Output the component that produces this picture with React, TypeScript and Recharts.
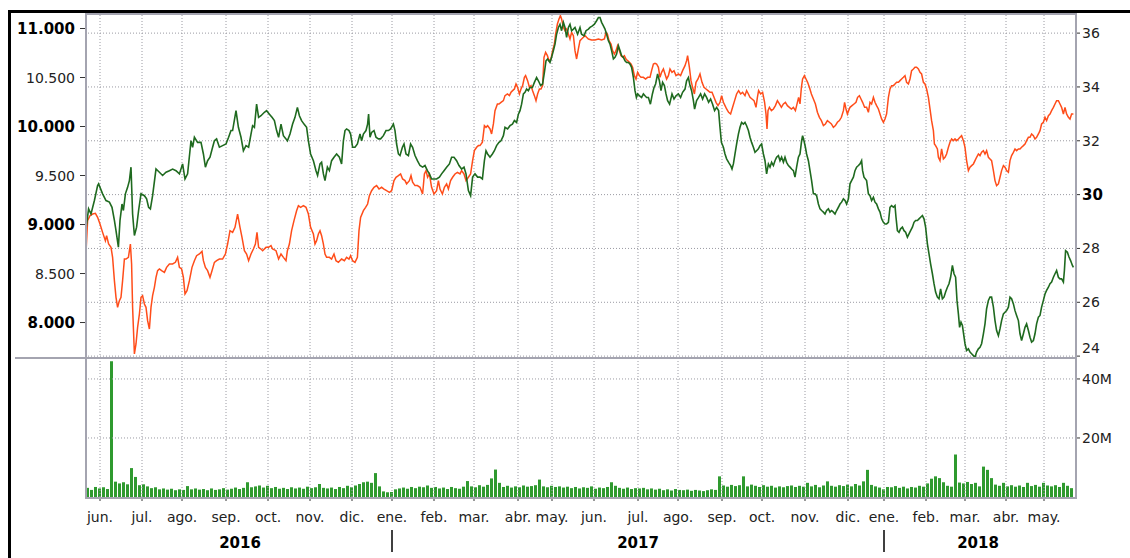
import React from 'react';
import { LineChart, Line, BarChart, Bar, XAxis, YAxis, ReferenceLine } from 'recharts';

// x values are trading-day positions, ~2px each in the original picture
const monthTicks = [7, 28, 48, 70, 91, 112, 133, 153, 174, 194, 216, 233, 254, 276, 296, 318, 338, 359.5, 381, 399, 420, 439.5, 460, 479];
const monthLabels = ['jun.', 'jul.', 'ago.', 'sep.', 'oct.', 'nov.', 'dic.', 'ene.', 'feb.', 'mar.', 'abr.', 'may.', 'jun.', 'jul.', 'ago.', 'sep.', 'oct.', 'nov.', 'dic.', 'ene.', 'feb.', 'mar.', 'abr.', 'may.'];
const yearTicks = [77, 276, 446];
const yearLabels = ['2016', '2017', '2018'];
const yearBreaks = [153, 399];

const indexTicks = [8000, 8500, 9000, 9500, 10000, 10500, 11000];
const stockTicks = [24, 26, 28, 30, 32, 34, 36];
const volumeTicks = [20, 40];

// index (orange, left axis)
const ibexPoints: [number, number][] = [
  [0, 8716], [0.8, 9039], [2, 9090], [3.3, 9107], [4.7, 9114], [5.8, 9073], [7, 9005], [8.3, 8920], [9.7, 8835], [10.3, 8886],
  [11.3, 8801], [12.5, 8767], [13.3, 8665], [14.2, 8427], [15, 8257], [15.8, 8155], [16.7, 8223], [17.5, 8257], [18.3, 8427], [19.2, 8648],
  [20, 8648], [21.2, 8665], [22.2, 8801], [22.8, 8597], [23.3, 8155], [24.2, 7679], [25, 7781], [25.8, 7951], [26.7, 8087], [27.5, 8257],
  [28.3, 8274], [29.2, 8189], [30, 8155], [30.8, 8019], [31.7, 7934], [32.5, 8155], [33.3, 8274], [34.2, 8359], [35, 8461], [35.8, 8529],
  [36.7, 8546], [37.8, 8529], [39.2, 8512], [40.3, 8563], [41.7, 8597], [43.3, 8597], [44.7, 8614], [45.8, 8665], [46.7, 8563], [47.8, 8546],
  [48.7, 8461], [49.5, 8291], [50.5, 8325], [51.7, 8427], [53, 8563], [54.2, 8631], [55.3, 8682], [56.7, 8699], [58, 8726], [58.7, 8631],
  [59.7, 8563], [60.8, 8529], [62, 8461], [63, 8529], [64.2, 8614], [65.3, 8631], [66.7, 8648], [68.3, 8648], [69.7, 8699], [70.8, 8801],
  [72, 8937], [73.3, 8920], [74.5, 8971], [75.8, 9107], [77, 8971], [78, 8869], [79.2, 8733], [80.3, 8699], [81.3, 8631], [82.5, 8699],
  [83.7, 8750], [84.7, 8801], [85.5, 8920], [86.3, 8767], [87.5, 8750], [88.3, 8733], [90, 8767], [91.3, 8767], [92.5, 8784], [93.3, 8750],
  [95, 8733], [96.3, 8648], [97.5, 8699], [98.7, 8665], [100, 8631], [100.7, 8733], [101.7, 8801], [102.8, 8937], [104, 9039], [105.3, 9141],
  [106.2, 9192], [107.3, 9175], [108.7, 9192], [110, 9175], [111.2, 9107], [112.3, 8971], [113.7, 8903], [114.5, 8801], [115.3, 8835], [116.2, 8903],
  [117, 8937], [117.8, 8886], [118.7, 8801], [119.5, 8699], [120.3, 8665], [121.7, 8665], [122.8, 8648], [124, 8699], [125, 8631], [126.2, 8614],
  [127.8, 8648], [129.2, 8631], [130.3, 8665], [131.5, 8648], [132.3, 8682], [133.3, 8631], [134.5, 8614], [135.7, 8665], [136.5, 8937], [137.3, 9073],
  [138.7, 9141], [139.8, 9175], [140.8, 9209], [141.7, 9294], [142.8, 9345], [144, 9380], [145.3, 9397], [146.5, 9362], [147.8, 9380], [149, 9362],
  [150.3, 9345], [151.7, 9328], [152.8, 9345], [154, 9448], [155, 9482], [156.2, 9499], [157.3, 9516], [158.3, 9465], [159.5, 9448], [160.3, 9414],
  [161.7, 9448], [162.5, 9499], [163.3, 9431], [164.5, 9397], [165.7, 9397], [167, 9380], [168.3, 9311], [169.2, 9516], [170, 9550], [170.8, 9482],
  [171.7, 9516], [172.8, 9380], [174, 9311], [175.3, 9345], [176.2, 9448], [177, 9362], [178.2, 9311], [179.2, 9380], [180.3, 9414], [181.2, 9362],
  [182.3, 9448], [183.3, 9482], [184.5, 9516], [185.7, 9533], [187, 9516], [187.8, 9550], [189, 9516], [190, 9448], [191.2, 9482], [192.3, 9516],
  [193.3, 9652], [194.2, 9754], [195.3, 9788], [196.2, 9805], [197, 9805], [198.2, 9839], [199.2, 10009], [200, 9992], [200.8, 10009], [202, 9975],
  [202.8, 9924], [203.7, 10026], [204.5, 10162], [205.7, 10230], [206.5, 10230], [207.5, 10247], [208.7, 10264], [209.5, 10315], [210.7, 10332], [211.7, 10315],
  [212.5, 10349], [213.3, 10366], [214.2, 10383], [215, 10434], [215.8, 10400], [216.7, 10332], [217.5, 10383], [218.3, 10417], [219.2, 10502], [219.8, 10519],
  [220.8, 10468], [221.7, 10400], [222.5, 10417], [223.3, 10366], [224.2, 10315], [225, 10264], [225.8, 10332], [226.7, 10383], [227.5, 10383], [228.3, 10417],
  [229, 10706], [229.8, 10757], [230.7, 10723], [231.5, 10672], [232.5, 10689], [233.3, 10774], [234.2, 10842], [234.8, 10944], [235.7, 11046], [236.5, 11097],
  [237.2, 11131], [237.8, 11097], [238.7, 11012], [239.5, 10978], [240.3, 10995], [241.2, 10944], [242, 10893], [242.8, 10961], [243.7, 10927], [244.5, 10774],
  [245.3, 10689], [246.2, 10791], [247, 10876], [247.8, 10893], [248.7, 10910], [249.5, 10927], [250.3, 10910], [251.2, 10893], [252.8, 10883], [254.5, 10883],
  [256.2, 10893], [257.8, 10883], [259.2, 10893], [260, 10961], [260.7, 10944], [261.5, 10876], [262.5, 10842], [263.3, 10774], [264.2, 10740], [265, 10774],
  [265.8, 10825], [266.7, 10774], [267.5, 10723], [268.3, 10706], [269.2, 10723], [270, 10689], [270.8, 10672], [271.7, 10655], [272.5, 10638], [273.3, 10604],
  [274.2, 10519], [275, 10485], [275.8, 10553], [276.7, 10519], [277.5, 10502], [278.7, 10502], [279.8, 10485], [280.8, 10502], [282, 10502], [282.8, 10570],
  [283.7, 10638], [284.5, 10645], [285.3, 10638], [286.2, 10604], [287, 10502], [287.8, 10553], [288.7, 10587], [289.5, 10536], [290.3, 10485], [291.2, 10519],
  [292, 10587], [293, 10553], [294, 10570], [295, 10519], [296.2, 10536], [297.3, 10519], [298.3, 10570], [299.5, 10621], [300.3, 10672], [300.8, 10723],
  [301.7, 10604], [302.5, 10468], [303.3, 10400], [304.2, 10332], [305, 10451], [306, 10485], [307, 10536], [308, 10451], [309, 10400], [310, 10383],
  [311, 10366], [312, 10349], [313, 10349], [314, 10298], [315, 10247], [316, 10213], [317, 10247], [317.8, 10315], [318.7, 10247], [319.5, 10213],
  [320.3, 10179], [321.3, 10145], [322.3, 10128], [323.3, 10196], [324.3, 10264], [325.3, 10332], [326.3, 10366], [327.3, 10332], [328.3, 10349], [329.5, 10315],
  [330.3, 10366], [331.2, 10332], [332, 10298], [333, 10281], [334, 10264], [335, 10196], [335.7, 10298], [336.3, 10366], [337.3, 10332], [338.3, 10349],
  [339.3, 10247], [340, 10128], [340.5, 9975], [341, 10162], [341.7, 10196], [342.7, 10162], [343.7, 10179], [344.7, 10213], [345.7, 10264], [346.7, 10230],
  [347.7, 10196], [348.7, 10230], [349.7, 10247], [350.7, 10213], [351.7, 10196], [352.7, 10179], [353.7, 10196], [354.7, 10162], [355.7, 10247], [356.3, 10298],
  [357, 10230], [357.7, 10400], [358.3, 10485], [359.2, 10519], [360, 10485], [360.8, 10451], [361.7, 10400], [362.7, 10332], [363.7, 10281], [364.7, 10230],
  [365.7, 10145], [366.7, 10094], [367.7, 10060], [368.7, 10009], [369.7, 10026], [370.7, 10060], [371.7, 10043], [372.7, 10026], [373.7, 9992], [374.7, 10009],
  [375.7, 10043], [376.7, 10060], [377.7, 10094], [378.7, 10162], [379.3, 10247], [380, 10179], [380.7, 10128], [381.3, 10162], [382, 10196], [383, 10213],
  [384, 10230], [385, 10247], [385.8, 10298], [386.7, 10315], [387.5, 10281], [388.3, 10247], [389.3, 10196], [390.3, 10196], [391.2, 10145], [392, 10247],
  [392.8, 10230], [393.7, 10298], [394.5, 10247], [395.3, 10213], [396.2, 10179], [397, 10128], [397.8, 10077], [398.7, 10043], [399.5, 10077], [400.3, 10128],
  [401.2, 10298], [402, 10383], [402.8, 10417], [403.7, 10417], [404.5, 10434], [405.3, 10451], [406.2, 10451], [407, 10468], [407.8, 10485], [408.7, 10502],
  [409.5, 10519], [410.3, 10451], [411.2, 10434], [412, 10485], [412.8, 10570], [413.7, 10587], [414.5, 10604], [415.3, 10604], [416.2, 10587], [417, 10553],
  [417.8, 10536], [418.7, 10451], [419.5, 10434], [420.3, 10383], [421.2, 10298], [422, 10179], [422.8, 10060], [423.7, 9958], [424.2, 9822], [424.8, 9805],
  [425.7, 9771], [426.2, 9686], [427, 9652], [427.8, 9771], [428.7, 9669], [429.5, 9686], [430.3, 9720], [431.2, 9788], [432, 9839], [432.8, 9873],
  [433.7, 9856], [434.5, 9873], [435.3, 9856], [436.2, 9873], [437, 9890], [437.8, 9907], [438.7, 9856], [439.5, 9788], [440.3, 9652], [441.2, 9550],
  [442, 9584], [442.8, 9601], [443.7, 9618], [444.5, 9652], [445.3, 9686], [446.2, 9720], [447, 9703], [447.8, 9737], [448.7, 9754], [449.5, 9720],
  [450.3, 9754], [451.2, 9686], [452, 9669], [452.8, 9652], [453.7, 9550], [454.5, 9448], [455.3, 9397], [456.2, 9414], [457, 9482], [457.8, 9550],
  [458.7, 9601], [459.5, 9584], [460.3, 9550], [461.2, 9533], [462, 9652], [462.8, 9703], [463.7, 9737], [464.5, 9771], [465.3, 9754], [466.2, 9771],
  [467, 9771], [467.8, 9788], [468.7, 9805], [469.5, 9822], [470.3, 9856], [471.2, 9890], [472, 9890], [472.8, 9924], [473.7, 9907], [474.5, 9873],
  [475.3, 9890], [476.2, 9924], [477, 9958], [477.8, 10026], [478.7, 10043], [479.5, 10094], [480.3, 10060], [481.2, 10111], [482, 10128], [482.8, 10162],
  [483.7, 10196], [484.5, 10230], [485.3, 10264], [486.2, 10264], [487, 10230], [487.8, 10196], [488.7, 10128], [489.5, 10196], [490.3, 10128], [491.2, 10094],
  [492, 10077], [492.8, 10128], [493.7, 10128],
];

// stock (green, right axis)
const stockPoints: [number, number][] = [
  [0, 28.73], [1.3, 29.47], [2.5, 29.28], [4.2, 29.78], [5.8, 30.34], [6.3, 30.4], [8.3, 30.03], [10, 29.78], [11.7, 29.72], [13, 29.53],
  [14.2, 29.04], [15, 28.66], [16.2, 28.05], [17, 29.04], [18, 29.65], [18.7, 29.41], [19.7, 30.03], [20.8, 30.27], [21.7, 30.52], [22.5, 31.02],
  [23.3, 29.28], [24.2, 28.48], [25.3, 28.79], [26.3, 29.41], [27.5, 30.03], [29.2, 29.96], [30.3, 29.84], [31.3, 29.53], [32.2, 29.47], [33.3, 29.96],
  [35, 30.95], [36.7, 30.83], [38.3, 30.71], [40, 30.83], [41.7, 30.89], [43.3, 30.95], [45, 30.89], [46.7, 30.77], [48.3, 31.14], [49.5, 30.58],
  [50.8, 30.77], [52.5, 32.0], [53.3, 31.76], [54.2, 32.13], [55.8, 31.94], [57.5, 31.94], [58.7, 31.51], [59.7, 31.02], [60.8, 31.26], [62, 31.39],
  [63.3, 31.76], [64.2, 32.0], [65.3, 32.07], [66.7, 31.76], [68.3, 31.82], [70, 31.88], [71.3, 32.13], [72.5, 32.38], [73.3, 32.38], [75, 33.12],
  [76.2, 32.5], [77.5, 32.13], [78.7, 31.63], [80, 31.82], [81.3, 31.76], [82.5, 32.25], [83.3, 32.56], [84.2, 32.5], [85.3, 33.36], [86.3, 32.87],
  [87.5, 32.93], [89.2, 33.06], [90.3, 33.12], [91.7, 32.99], [93, 32.87], [94.2, 32.75], [95.3, 32.38], [96.3, 32.13], [97.5, 32.62], [98.7, 32.19],
  [100, 32.07], [100.7, 32.0], [102, 32.25], [103.3, 32.62], [104.5, 32.87], [105.7, 33.24], [106.7, 32.93], [107.8, 32.75], [109, 32.62], [110.3, 32.5],
  [111.2, 32.0], [112.3, 31.51], [113.7, 31.26], [115, 30.89], [115.8, 30.71], [117, 31.14], [117.8, 31.2], [118.7, 30.77], [119.5, 30.52], [120.7, 31.02],
  [121.7, 30.89], [122.8, 31.26], [124, 31.39], [125.3, 31.51], [126.7, 31.39], [127.8, 31.14], [128.7, 32.0], [129.5, 32.38], [130.3, 32.44], [131.5, 32.38],
  [132.3, 32.25], [133.3, 31.76], [134.5, 31.76], [135.7, 31.88], [137, 32.25], [137.8, 32.0], [138.7, 32.25], [140, 32.38], [140.8, 32.62], [141.3, 32.99],
  [142, 32.13], [142.8, 32.31], [144, 32.38], [145, 32.13], [146.2, 32.07], [147.3, 32.07], [148.7, 32.19], [150, 32.38], [151.2, 32.38], [152.3, 32.44],
  [153.7, 32.62], [154.5, 32.38], [155.3, 31.88], [156.2, 31.51], [157, 31.45], [158.2, 31.76], [159, 31.88], [160, 31.51], [161.2, 31.45], [162.3, 31.88],
  [163.3, 31.76], [164.5, 31.45], [165.7, 31.26], [167, 31.08], [168.3, 31.02], [169.5, 31.08], [170.7, 30.89], [171.7, 30.77], [172.8, 30.58], [174, 30.58],
  [175.3, 30.58], [176.7, 30.65], [177.8, 30.77], [179, 30.89], [180.3, 31.02], [181.7, 31.14], [182.8, 31.39], [184, 31.39], [185.3, 31.26], [186.5, 31.08],
  [187.8, 30.95], [189, 31.02], [190, 30.77], [191.2, 30.15], [192.3, 29.96], [193.3, 30.65], [194.5, 30.77], [195.8, 30.65], [197, 30.65], [198.2, 30.58],
  [199.2, 31.26], [200, 31.63], [200.8, 31.51], [202, 31.39], [203.2, 31.51], [204.2, 31.63], [205.3, 31.82], [206.5, 31.94], [207.5, 32.0], [208.7, 32.19],
  [209.5, 32.5], [210.8, 32.44], [212, 32.56], [213.2, 32.62], [214.2, 32.75], [215.3, 32.68], [216.2, 32.99], [217, 33.12], [217.8, 33.36], [218.7, 33.74],
  [219.5, 33.8], [220.3, 33.92], [221.2, 33.86], [222, 33.98], [223.2, 33.98], [224.2, 34.17], [225.3, 34.35], [226.2, 34.23], [227.3, 34.05], [228.3, 34.11],
  [229.2, 34.54], [230, 34.97], [230.8, 35.04], [232, 34.91], [232.8, 35.1], [233.7, 35.35], [234.5, 35.59], [235.3, 35.96], [236.2, 36.21], [237, 36.33],
  [237.8, 36.09], [238.7, 36.4], [239.5, 36.21], [240.3, 35.84], [241.2, 36.21], [242, 36.33], [242.8, 36.09], [243.7, 36.15], [244.5, 36.21], [245.8, 35.96],
  [247, 36.21], [247.8, 35.96], [249, 35.9], [250, 36.09], [251.2, 36.15], [252, 36.21], [253.2, 36.27], [254.2, 36.33], [255.3, 36.46], [256.2, 36.58],
  [257, 36.58], [257.8, 36.4], [258.7, 36.27], [259.5, 36.15], [260.3, 35.96], [261.2, 35.72], [262, 35.59], [262.8, 35.35], [263.7, 35.04], [264.5, 35.1],
  [265.3, 35.22], [266.2, 35.53], [267, 35.35], [267.8, 35.16], [268.7, 35.1], [269.5, 34.97], [270.3, 34.91], [271.2, 34.91], [272, 34.85], [272.8, 34.73],
  [273.7, 34.35], [274.5, 33.86], [275.2, 33.61], [275.8, 33.74], [276.8, 33.67], [277.8, 33.61], [278.7, 33.74], [279.5, 33.67], [280.3, 33.61], [281.2, 33.61],
  [282.2, 33.36], [283.2, 33.74], [284, 33.98], [284.8, 34.11], [285.8, 34.48], [286.7, 34.23], [287.5, 33.86], [288.3, 34.17], [289.2, 34.05], [290, 33.74],
  [290.8, 33.49], [291.8, 33.36], [293, 33.74], [294, 33.55], [295, 33.67], [296.2, 33.74], [297.3, 33.61], [298.3, 33.8], [299.5, 33.92], [300.3, 34.23],
  [301.2, 34.35], [302, 34.05], [302.8, 33.86], [303.7, 33.49], [304.3, 33.18], [305.3, 33.49], [306.3, 33.61], [307.3, 33.74], [308.3, 33.55], [309.3, 33.74],
  [310.3, 33.61], [311.3, 33.43], [312.3, 33.55], [313.3, 33.36], [314.3, 33.12], [315.3, 33.24], [316.3, 33.12], [317, 32.5], [317.7, 31.94], [318.7, 31.76],
  [319.5, 31.51], [320.3, 31.33], [321.3, 31.2], [322.3, 31.08], [323, 30.95], [323.7, 31.14], [324.5, 31.51], [325.3, 31.88], [326.2, 32.25], [327, 32.5],
  [327.8, 32.68], [328.7, 32.62], [329.5, 32.68], [330.3, 32.56], [331.2, 32.38], [332, 32.13], [332.8, 31.94], [333.7, 31.76], [334.5, 31.57], [335.3, 31.63],
  [336.2, 31.7], [337, 31.82], [337.8, 31.88], [338.7, 31.51], [339.5, 31.26], [340.3, 30.77], [341.2, 31.14], [342, 31.02], [342.8, 31.2], [343.7, 31.08],
  [344.5, 31.26], [345.3, 31.39], [346.2, 31.45], [347, 31.26], [347.8, 31.39], [348.7, 31.2], [349.5, 31.39], [350.3, 31.2], [351.2, 31.08], [352, 31.02],
  [352.8, 30.95], [353.7, 30.89], [354.5, 30.65], [355.3, 31.02], [356.2, 31.39], [357, 31.51], [357.8, 32.0], [358.3, 32.19], [359, 32.0], [359.7, 31.76],
  [360.3, 31.51], [361.2, 31.26], [362, 30.89], [362.8, 30.52], [363.7, 30.03], [364.5, 30.03], [365.3, 29.96], [366.2, 29.65], [367, 29.47], [367.8, 29.41],
  [368.7, 29.35], [369.5, 29.28], [370.3, 29.41], [371.2, 29.47], [372, 29.35], [372.8, 29.41], [373.7, 29.35], [374.5, 29.28], [375.3, 29.41], [376.2, 29.53],
  [377, 29.65], [377.8, 29.72], [378.7, 29.84], [379.5, 29.78], [380.3, 29.65], [381.2, 29.84], [382, 30.4], [382.8, 30.52], [383.7, 30.65], [384.5, 30.89],
  [385.3, 31.02], [386.2, 31.08], [387, 31.14], [387.8, 31.26], [388.3, 30.89], [389, 30.65], [390.3, 30.52], [391.2, 30.03], [392, 29.96], [392.8, 29.78],
  [393.7, 29.9], [394.5, 29.72], [395.3, 29.65], [396.2, 29.47], [397, 29.35], [397.8, 29.1], [398.7, 28.97], [399.5, 28.91], [400.3, 28.91], [401.2, 28.97],
  [402, 29.53], [402.8, 29.59], [403.7, 29.53], [404.5, 29.59], [405, 29.16], [405.7, 28.66], [406.5, 28.6], [407.3, 28.73], [408.2, 28.79], [409, 28.66],
  [409.8, 28.6], [410.7, 28.42], [411.5, 28.54], [412.3, 28.66], [413.2, 28.79], [414, 28.97], [414.8, 29.04], [415.7, 29.04], [416.5, 29.1], [417.3, 29.16],
  [418.2, 29.22], [419, 29.1], [419.8, 28.79], [420.7, 28.17], [421.5, 27.8], [422.3, 27.43], [423.2, 27.06], [424, 26.69], [424.8, 26.38], [425.7, 26.19],
  [426.5, 26.13], [427.3, 26.5], [428.2, 26.13], [429, 26.19], [429.8, 26.38], [430.7, 26.56], [431.5, 26.69], [432.3, 26.93], [433.2, 27.37], [434, 27.06],
  [434.8, 26.93], [435.5, 26.07], [436.2, 25.57], [436.8, 25.07], [437.5, 25.26], [438.2, 25.14], [438.8, 24.83], [439.5, 24.46], [440.3, 24.21], [441.2, 24.27],
  [442, 24.15], [442.8, 24.09], [443.7, 24.02], [444.5, 23.96], [445.3, 24.15], [446.2, 24.27], [447, 24.33], [447.8, 24.46], [448.7, 24.83], [449.5, 25.2],
  [450.3, 25.76], [451.2, 26.07], [452, 26.19], [452.8, 26.19], [453.7, 25.82], [454.5, 25.32], [455.3, 24.95], [456.2, 24.76], [457, 25.01], [457.8, 25.32],
  [458.7, 25.57], [459.5, 25.63], [460.3, 25.69], [461.2, 25.82], [462, 26.19], [462.8, 26.13], [463.7, 25.94], [464.5, 25.69], [465.3, 25.51], [466.2, 25.32],
  [467, 24.83], [467.8, 24.58], [468.7, 24.83], [469.5, 25.07], [470.3, 25.2], [471.2, 24.95], [472, 24.7], [472.8, 24.52], [473.7, 24.58], [474.5, 24.83],
  [475.3, 25.2], [476.2, 25.45], [477, 25.51], [477.8, 25.82], [478.7, 26.07], [479.5, 26.31], [480.3, 26.44], [481.2, 26.56], [482, 26.69], [482.8, 26.75],
  [483.7, 26.93], [484.5, 27.06], [485.3, 27.18], [486.2, 26.93], [487, 26.87], [487.8, 26.87], [488.7, 26.75], [489.2, 27.18], [489.8, 27.92], [490.7, 27.86],
  [491.5, 27.68], [492.3, 27.55], [493.2, 27.37], [493.7, 27.3],
];

// daily volume in millions, one bar per two trading days
const volumes = [
  3.1, 2.4, 3.4, 2.9, 3.3, 2.7, 46.0, 5.2, 4.6, 5.0, 4.3, 9.8, 6.8, 4.0, 4.3, 3.6, 3.0, 3.3, 2.6, 2.9,
  2.5, 2.8, 2.3, 2.6, 2.4, 3.7, 2.6, 2.9, 2.5, 2.7, 2.3, 2.9, 2.4, 2.6, 3.0, 2.5, 2.8, 3.2, 2.7, 3.1,
  5.0, 3.3, 3.6, 3.9, 3.2, 3.8, 3.0, 3.4, 2.8, 3.1, 2.7, 3.3, 2.9, 3.2, 2.8, 3.5, 3.0, 3.3, 4.4, 3.1,
  2.9, 3.2, 2.7, 3.4, 3.0, 3.8, 3.3, 3.9, 4.4, 5.0, 5.2, 4.8, 8.1, 3.6, 1.9, 1.6, 1.7, 2.6, 2.9, 3.2,
  2.8, 3.4, 3.0, 3.5, 3.3, 3.9, 3.1, 3.4, 2.9, 3.2, 2.7, 3.4, 3.0, 2.8, 3.5, 5.4, 3.6, 3.3, 4.0, 3.5,
  4.1, 6.3, 9.3, 4.8, 3.4, 3.8, 3.2, 3.6, 3.3, 3.9, 3.5, 3.7, 4.0, 5.9, 3.6, 3.3, 3.8, 3.4, 3.6, 3.2,
  3.5, 3.0, 3.4, 2.9, 3.3, 3.1, 3.6, 2.8, 3.2, 3.0, 3.4, 5.0, 3.8, 3.1, 2.8, 3.2, 2.7, 3.0, 2.9, 3.1,
  2.6, 2.9, 2.5, 2.8, 2.3, 2.6, 2.2, 2.7, 2.4, 2.3, 2.5, 2.1, 2.4, 2.2, 2.0, 2.3, 2.6, 2.4, 7.0, 3.9,
  3.5, 4.1, 3.7, 4.0, 7.0, 3.6, 4.2, 3.8, 3.4, 4.0, 3.5, 3.8, 3.2, 3.6, 3.3, 3.7, 3.9, 3.4, 3.8, 3.5,
  4.8, 3.6, 4.1, 3.3, 3.9, 5.3, 3.8, 3.5, 4.0, 3.7, 4.2, 3.6, 4.4, 3.9, 5.3, 9.2, 4.1, 3.6, 3.2, 2.6,
  3.4, 3.3, 3.7, 3.1, 3.5, 2.9, 3.4, 3.2, 3.8, 3.5, 4.6, 6.2, 7.0, 6.4, 5.0, 3.8, 3.5, 14.4, 4.9, 4.6,
  5.1, 4.4, 4.8, 3.6, 10.3, 9.2, 6.4, 4.2, 3.8, 4.8, 3.6, 4.0, 3.5, 3.9, 3.4, 4.8, 3.7, 4.1, 3.5, 4.8,
  3.9, 3.6, 4.0, 3.4, 4.8, 3.8, 3.0,
];

const ibexData = ibexPoints.map(([t, v]) => ({ t, v }));
const stockData = stockPoints.map(([t, v]) => ({ t, v }));
const volumeData = volumes.map((v, i) => ({ t: i * 2 + 1, v }));

const FONT = '"DejaVu Sans", Verdana, sans-serif';
const GRID = '#9a9aa2';
const FRAME = '#a4a4b0';
const X_DOMAIN: [number, number] = [0, 495];

const IndexTick = (props: any) => {
  const { x, y, payload } = props;
  const v = payload.value as number;
  const major = v % 1000 === 0;
  const label = `${Math.floor(v / 1000)}.${String(v % 1000).padStart(3, '0')}`;
  return (
    <text x={x} y={y} dy={5} textAnchor="end" fontFamily={FONT} fontSize={major ? 15 : 14} fontWeight={major ? 700 : 400} fill={major ? '#000' : '#222'}>
      {label}
    </text>
  );
};

const StockTick = (props: any) => {
  const { x, y, payload } = props;
  const bold = payload.value === 30;
  // the bottom label sits a little above its tick so it stays inside the pane
  const dy = payload.value === 24 ? -3 : 5;
  return (
    <text x={x} y={y} dy={dy} textAnchor="start" fontFamily={FONT} fontSize={bold ? 15 : 14} fontWeight={bold ? 700 : 400} fill={bold ? '#000' : '#222'}>
      {payload.value}
    </text>
  );
};

const VolumeTick = (props: any) => {
  const { x, y, payload } = props;
  return (
    <text x={x} y={y} dy={5} textAnchor="start" fontFamily={FONT} fontSize={14} fill="#222">
      {`${payload.value}M`}
    </text>
  );
};

const MonthTick = (props: any) => {
  const { x, y, payload } = props;
  const i = monthTicks.indexOf(payload.value);
  return (
    <text x={x} y={y} dy={19} textAnchor="middle" fontFamily={FONT} fontSize={14} fill="#222">
      {monthLabels[i]}
    </text>
  );
};

const YearTick = (props: any) => {
  const { x, y, payload } = props;
  if (yearBreaks.includes(payload.value)) {
    return <line x1={x} x2={x} y1={y + 3} y2={y + 25} stroke="#000" strokeWidth={1.5} />;
  }
  const i = yearTicks.indexOf(payload.value);
  return (
    <text x={x} y={y} dy={21} textAnchor="middle" fontFamily={FONT} fontSize={15} fontWeight={700} fill="#000">
      {yearLabels[i]}
    </text>
  );
};

const line = (style: React.CSSProperties) => <div style={{ position: 'absolute', background: FRAME, ...style }} />;

export default function App() {
  const yearAxisTicks = [...yearTicks, ...yearBreaks].sort((a, b) => a - b);
  return (
    <div style={{ position: 'absolute', left: 0, top: 0, width: 1130, height: 558, background: '#fff', overflow: 'hidden' }}>
      <div style={{ position: 'absolute', left: 8, top: 10, width: 1130, height: 560, borderLeft: '3px solid #000', borderTop: '3px solid #000', boxSizing: 'border-box' }} />

      <div style={{ position: 'absolute', left: 0, top: 0 }}>
        <LineChart width={1130} height={358} margin={{ top: 14, right: 4, bottom: 0, left: 10 }}>
          <XAxis type="number" dataKey="t" domain={X_DOMAIN} allowDataOverflow hide />
          <YAxis yAxisId="idx" orientation="left" width={76} domain={[7638, 11148]} ticks={indexTicks} interval={0} allowDataOverflow
            tick={<IndexTick />} tickSize={6} tickMargin={5} tickLine={{ stroke: '#333' }} axisLine={false} />
          <YAxis yAxisId="stk" orientation="right" width={50} domain={[23.93, 36.71]} ticks={stockTicks} interval={0} allowDataOverflow
            tick={<StockTick />} tickSize={4} tickMargin={2} tickLine={{ stroke: '#333' }} axisLine={false} />
          {stockTicks.map((v) => (
            <ReferenceLine key={`h${v}`} yAxisId="stk" y={v} stroke={GRID} strokeDasharray="1 2" />
          ))}
          {monthTicks.map((t) => (
            <ReferenceLine key={`v${t}`} yAxisId="stk" x={t} stroke={GRID} strokeDasharray="1 2" />
          ))}
          <Line yAxisId="idx" data={ibexData} dataKey="v" type="linear" stroke="#ff4d1a" strokeWidth={1.5} dot={false} isAnimationActive={false} />
          <Line yAxisId="stk" data={stockData} dataKey="v" type="linear" stroke="#1f6a1f" strokeWidth={1.6} dot={false} isAnimationActive={false} />
        </LineChart>
      </div>

      <div style={{ position: 'absolute', left: 0, top: 358 }}>
        <BarChart width={1130} height={200} data={volumeData} margin={{ top: 0, right: 0, bottom: 11, left: 86 }}>
          <XAxis xAxisId="m" type="number" dataKey="t" domain={X_DOMAIN} allowDataOverflow ticks={monthTicks} interval={0}
            tick={<MonthTick />} tickSize={4} tickMargin={2} tickLine={{ stroke: '#333' }} axisLine={false} height={30} />
          <XAxis xAxisId="y" type="number" dataKey="t" domain={X_DOMAIN} allowDataOverflow ticks={yearAxisTicks} interval={0}
            tick={<YearTick />} tickSize={0} tickMargin={0} tickLine={false} axisLine={false} height={20} />
          <YAxis yAxisId="v" orientation="right" width={54} domain={[0, 47.1]} ticks={volumeTicks} interval={0} allowDataOverflow
            tick={<VolumeTick />} tickSize={4} tickMargin={2} tickLine={{ stroke: '#333' }} axisLine={false} />
          {volumeTicks.map((v) => (
            <ReferenceLine key={`vh${v}`} xAxisId="m" yAxisId="v" y={v} stroke={GRID} strokeDasharray="1 2" />
          ))}
          {monthTicks.map((t) => (
            <ReferenceLine key={`vv${t}`} xAxisId="m" yAxisId="v" x={t} stroke={GRID} strokeDasharray="1 2" />
          ))}
          <Bar xAxisId="m" yAxisId="v" dataKey="v" fill="#2f9a2f" barSize={3} isAnimationActive={false} />
        </BarChart>
      </div>

      {line({ left: 85, top: 13, width: 992, height: 2 })}
      {line({ left: 85, top: 13, width: 2, height: 486 })}
      {line({ left: 1075, top: 13, width: 2, height: 486 })}
      {line({ left: 85, top: 497, width: 992, height: 2 })}
      {line({ left: 15, top: 357, width: 1062, height: 2 })}
    </div>
  );
}
